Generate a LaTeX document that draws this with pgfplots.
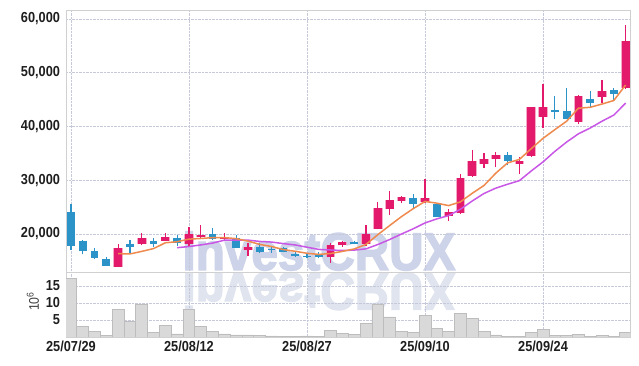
\documentclass[border=0pt]{standalone}
\usepackage{pgfplots}
\pgfplotsset{compat=1.18}
\usepackage{pgfplotstable}
\usepackage{fontspec}
\setmainfont{Liberation Sans}[FakeStretch=0.88]
\newfontfamily\wmfont{Liberation Sans}[FakeStretch=0.9, FakeBold=2.5]
\definecolor{upc}{HTML}{E3196B}
\definecolor{uph}{HTML}{F4A9C6}
\definecolor{dnc}{HTML}{2B93C8}
\definecolor{ma5c}{HTML}{EF8A4E}
\definecolor{ma10c}{HTML}{C957E6}
\definecolor{gridc}{HTML}{C5C9DA}
\definecolor{framec}{HTML}{D0D0D0}
\definecolor{volf}{HTML}{D9D9D9}
\definecolor{vold}{HTML}{BDBDBD}
\definecolor{wm}{HTML}{CDD3E8}
\definecolor{wmr}{HTML}{E0E4EF}
\definecolor{tickc}{HTML}{1E1E1E}

\pgfplotstableread{
i open high low close
4 13920 18200 13900 17400
6 18080 20240 17900 19200
8 18750 20240 18700 19500
10 18140 21250 17770 19940
11 19500 21620 19070 19800
13 19000 20130 18880 19500
15 17020 18270 15900 17640
22 15780 18270 14660 17900
23 17900 18640 17640 18570
25 18140 21620 17770 19940
26 20990 25900 20870 24780
27 24590 28050 23530 26320
28 26190 27070 25710 26880
30 25900 30290 25710 26640
32 23410 24590 22360 24040
33 23850 31100 23720 30360
34 30840 35620 30660 33580
35 32960 35010 32220 33950
36 33890 35310 32410 34690
38 32960 34380 31160 33580
39 34560 43700 34400 43570
40 41820 47900 39660 43570
43 40890 45850 40400 45670
45 45540 48640 44310 46600
47 47100 58870 47040 55900
}\up

\pgfplotstableread{
i open high low close
0 24150 25580 17020 17820
1 18750 18800 16220 16800
2 16840 17340 15300 15600
3 15350 15660 14100 14100
5 18140 18880 16400 17530
7 18700 19300 17530 18200
9 19200 19800 17770 18380
12 19940 21060 18880 19000
14 19200 19800 17340 17450
16 17640 18270 16400 16710
17 17270 17770 16520 17080
18 17340 17640 16600 16600
19 16340 16710 15780 15900
20 15970 16520 15480 15780
21 16030 16710 15480 15660
24 18450 18700 18080 18200
29 26640 27380 24590 25640
31 25580 25580 23220 23220
37 34690 35200 32780 33580
41 43060 45670 41320 42750
42 42880 47100 41320 41450
44 45170 46600 43700 44420
46 46780 47100 44920 46040
}\down

\pgfplotstableread{
i ma
4 16344
5 16286
6 16766
7 17286
8 18366
9 18562
10 19044
11 19164
12 19324
13 19324
14 19138
15 18678
16 18060
17 17676
18 17096
19 16786
20 16414
21 16204
22 16368
23 16762
24 17222
25 18054
26 19878
27 21562
28 23224
29 24712
30 26052
31 25740
32 25284
33 25980
34 27568
35 29030
36 31324
37 33232
38 33876
39 35874
40 37798
41 39410
42 40984
43 43402
44 43572
45 44178
46 44836
47 47726
}\mafive

\pgfplotstableread{
i ma
9 17453
10 17665
11 17965
12 18305
13 18845
14 18850
15 18861
16 18612
17 18500
18 18210
19 17962
20 17546
21 17132
22 17022
23 16929
24 17004
25 17234
26 18041
27 18965
28 19993
29 20967
30 22053
31 22809
32 23423
33 24602
34 26140
35 27541
36 28532
37 29258
38 29928
39 31721
40 33414
41 35367
42 37108
43 38639
44 39723
45 40988
46 42123
47 44355
}\maten

\pgfplotstableread{
i v
0 17.3
1 3.2
2 1.5
3 0.5
4 8.1
5 4.7
6 9.7
7 1.4
8 3.4
9 0.9
10 8.1
11 3.2
12 1.6
13 0.9
14 0.6
15 0.6
16 0.4
17 0.3
18 0.2
19 0.1
20 0.3
21 0.1
22 2.0
23 1.1
24 0.7
25 4.0
26 9.6
27 5.9
28 1.7
29 1.4
30 6.4
31 2.6
32 1.7
33 7.0
34 5.5
35 1.6
36 0.6
37 0.2
38 0.2
39 1.4
40 2.3
41 0.5
42 0.5
43 0.8
44 0.2
45 0.5
46 0.2
47 1.3
}\vol

\pgfplotsset{
  common/.style={
    scale only axis, width=564pt,
    xmin=-0.42, xmax=47.37,
    xtick={0,10,20,30,40},
    grid=major,
    major grid style={densely dotted, gridc, line width=0.6pt},
    axis line style={framec, line width=0.8pt},
    tick style={draw=none},
    /pgf/number format/assume math mode=true,
    ticklabel style={font=\bfseries\fontsize{14.5}{15}\selectfont, text=tickc},
    yticklabel style={xshift=-2.5pt},
    scaled y ticks=false,
  },
  wick/.style={draw=none, mark=none, forget plot,
    error bars/.cd, y dir=plus, y explicit, error mark=none,
    error bar style={draw=#1, line width=1.3pt}},
  body/.style 2 args={draw=none, mark=none, forget plot,
    error bars/.cd, y dir=plus, y explicit, error mark=none,
    error bar style={draw=#1, line width=#2}},
}

\begin{document}
\begin{tikzpicture}
\path[use as bounding box] (0pt,0pt) rectangle (639pt,366pt);
\node[anchor=base, text=wm, font=\wmfont\bfseries\fontsize{53}{53}\selectfont, inner sep=0pt] at (319pt,96pt) {investCRUX};
\node[anchor=base, yscale=-1, text=wmr, font=\wmfont\bfseries\fontsize{53}{53}\selectfont, inner sep=0pt] at (319pt,93pt) {investCRUX};

\begin{axis}[common,
  at={(66pt,94pt)}, anchor=south west, height=262pt,
  ymin=12930, ymax=61674,
  ytick={20000,30000,40000,50000,60000},
  xticklabels=\empty,
  yticklabel style={/pgf/number format/fixed, /pgf/number format/1000 sep={,}},
]
\addplot[wick=dnc] table[x=i, y=low, y error plus expr=\thisrow{high}-\thisrow{low}] {\down};
\addplot[wick=upc] table[x=i, y=low, y error plus expr=\thisrow{high}-\thisrow{low}] {\up};
\addplot[body={dnc}{7.8pt}] table[x=i, y=close, y error plus expr=\thisrow{open}-\thisrow{close}] {\down};
\addplot[body={uph}{9.6pt}] table[x=i, y=open, y error plus expr=\thisrow{close}-\thisrow{open}] {\up};
\addplot[body={upc}{7.8pt}] table[x=i, y=open, y error plus expr=\thisrow{close}-\thisrow{open}] {\up};
\addplot[ma10c, line width=1.5pt, mark=none] table[x=i, y=ma] {\maten};
\addplot[ma5c, line width=1.5pt, mark=none] table[x=i, y=ma] {\mafive};
\end{axis}

\begin{axis}[common,
  at={(66pt,29pt)}, anchor=south west, height=65pt,
  ymin=0, ymax=19.1,
  ytick={5,10,15},
  xticklabels={25/07/29,25/08/12,25/08/27,25/09/10,25/09/24},
  ylabel={10\textsuperscript{6}},
  every axis y label/.style={at={(axis description cs:0,0.5)}, xshift=-33pt, yshift=3pt, rotate=90, anchor=center, font=\fontsize{14}{14}\selectfont, text=black!75},
]
\addplot[ybar, bar width=11.8pt, bar shift=0pt, fill=volf, draw=vold, line width=0.8pt] table[x=i, y=v] {\vol};
\end{axis}
\end{tikzpicture}
\end{document}
